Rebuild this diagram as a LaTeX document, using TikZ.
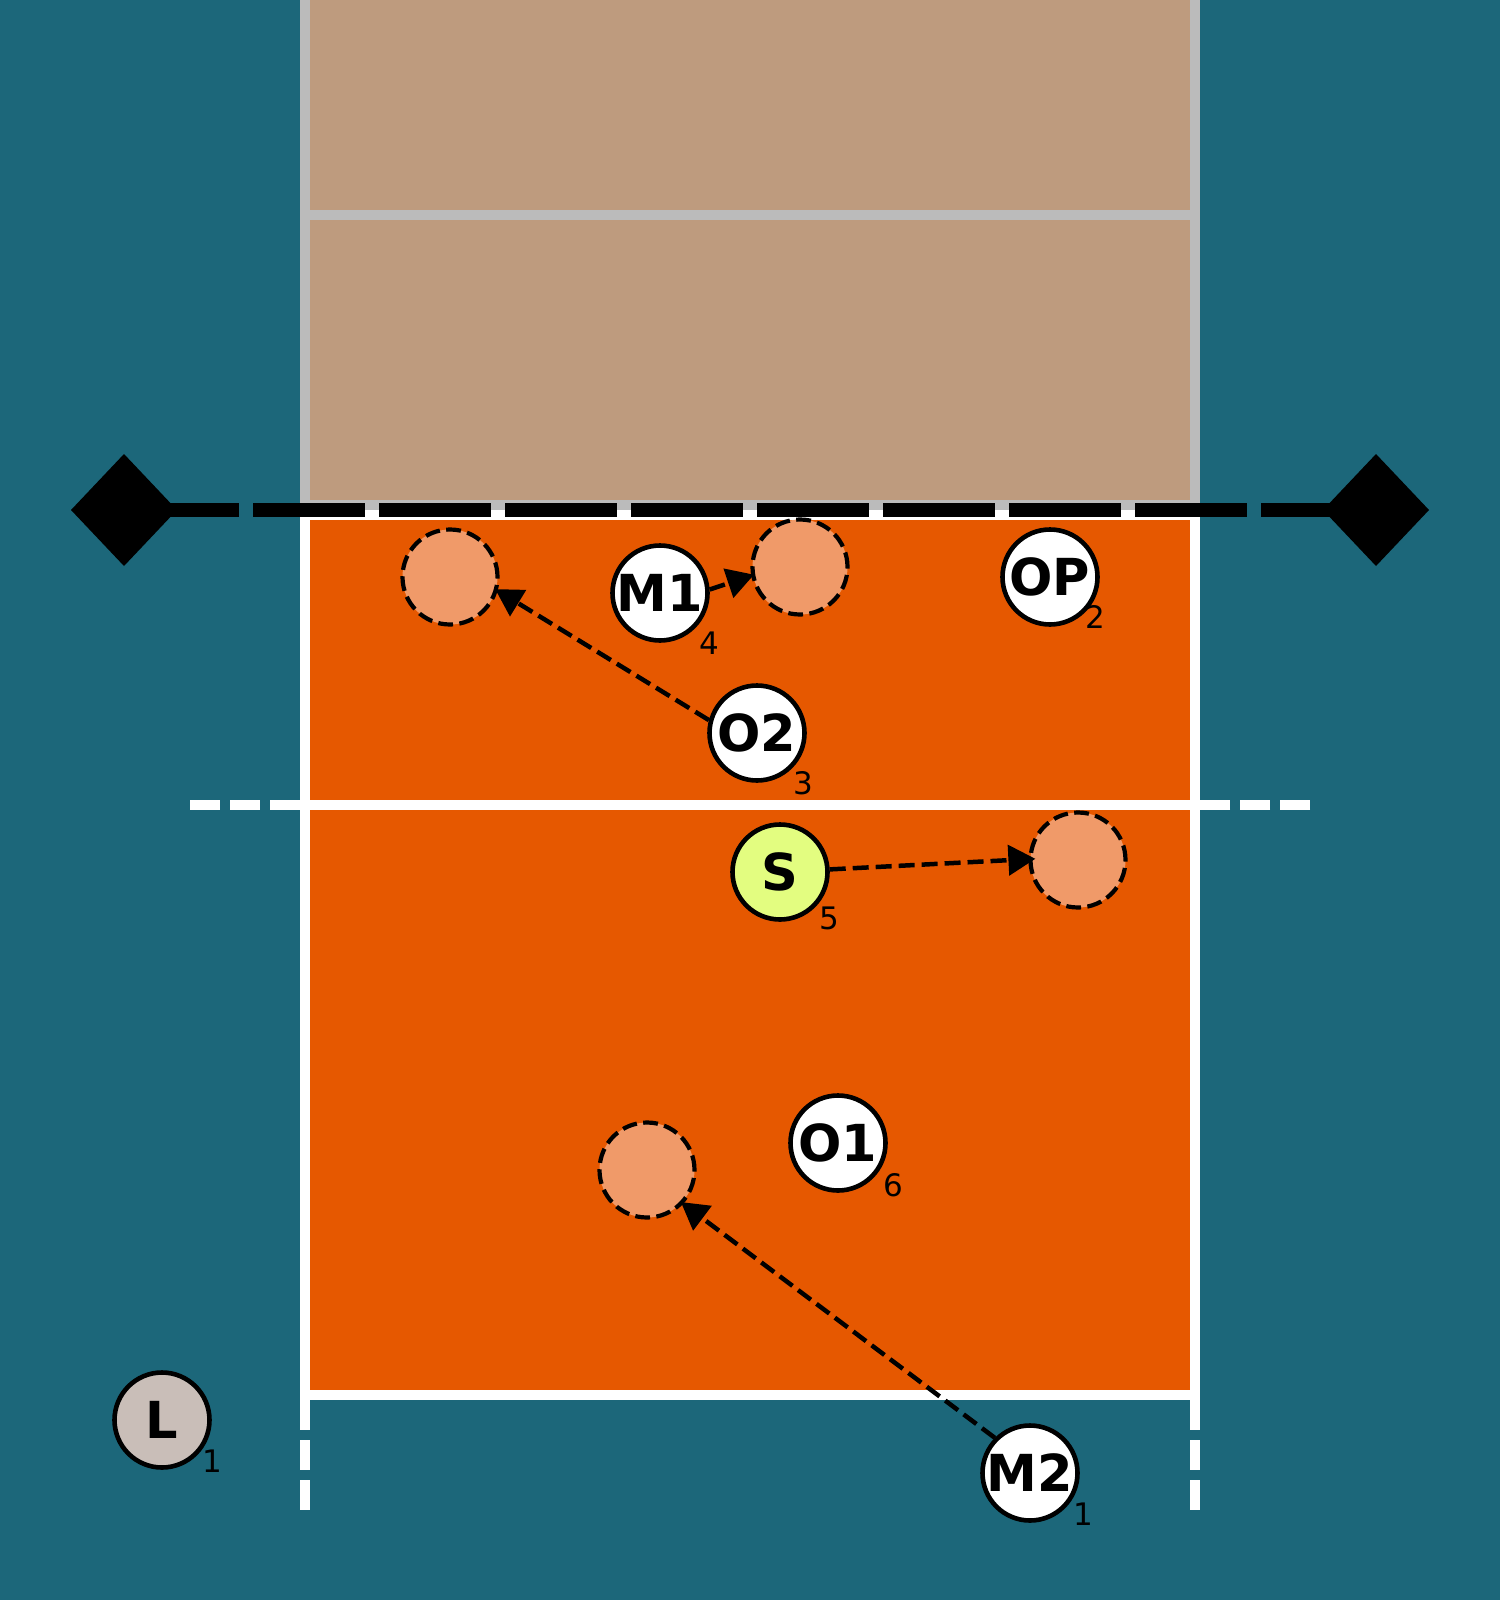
\documentclass[tikz,border=0pt]{standalone}
\usepackage{fontspec}
\setmainfont{DejaVu Sans}
\usetikzlibrary{arrows.meta}
\definecolor{bgteal}{RGB}{28,103,122}
\definecolor{courttan}{RGB}{190,155,126}
\definecolor{courtorange}{RGB}{230,88,0}
\definecolor{ghostfill}{RGB}{240,154,105}
\definecolor{netgray}{RGB}{187,187,187}
\definecolor{setterfill}{RGB}{227,253,128}
\definecolor{liberofill}{RGB}{201,190,184}
\begin{document}
\begin{tikzpicture}[x=1pt,y=-1pt,
  player/.style={circle, draw=black, line width=4.6pt, fill=white, minimum size=95pt, inner sep=0pt,
    font=\fontsize{51}{51}\selectfont\bfseries},
  ghost/.style={circle, draw=black, line width=4.2pt, fill=ghostfill, dash pattern=on 14.8pt off 6.4pt,
    minimum size=95pt, inner sep=0pt},
  numlabel/.style={font=\fontsize{31}{31}\selectfont, inner sep=0pt},
  move/.style={line width=4.5pt, dash pattern=on 16pt off 7pt, shorten >=-3pt,
    -{Triangle[length=27pt,width=30pt]}},
  courtline/.style={white, line width=10pt},
  grayline/.style={netgray, line width=10pt}]
\useasboundingbox (0,0) rectangle (1500,1600);
\clip (0,0) rectangle (1500,1600);
\fill[bgteal] (0,0) rectangle (1500,1600);
% opponent half
\filldraw[fill=courttan, draw=netgray, line width=10pt] (305,-100) rectangle (1195,505);
\draw[grayline] (305,215) -- (1195,215);
% own half
\filldraw[fill=courtorange, draw=white, line width=10pt] (305,515) rectangle (1195,1395);
\draw[courtline] (305,805) -- (1195,805);
\draw[courtline, dash pattern=on 30pt off 10pt] (190,805) -- (300,805);
\draw[courtline, dash pattern=on 30pt off 10pt] (1310,805) -- (1200,805);
\draw[courtline] (305,1395) -- (305,1430) (305,1440) -- (305,1470) (305,1480) -- (305,1510);
\draw[courtline] (1195,1395) -- (1195,1430) (1195,1440) -- (1195,1470) (1195,1480) -- (1195,1510);
% net
\draw[black, line width=14pt, dash pattern=on 112pt off 14pt] (127,510) -- (1373,510);
\fill[black] (124,454) -- (177,510) -- (124,566) -- (71,510) -- cycle;
\fill[black] (1376,454) -- (1429,510) -- (1376,566) -- (1323,510) -- cycle;
% target positions
\node[ghost] (g1) at (450,577) {};
\node[ghost] (g2) at (800,567) {};
\node[ghost] (g3) at (1078,860) {};
\node[ghost] (g4) at (647,1170) {};
% players
\node[player] (m1) at (660,593) {M1};
\node[player] (op) at (1050,577) {OP};
\node[player] (o2) at (757,733) {O2};
\node[player, fill=setterfill] (s) at (780,872) {S};
\node[player] (o1) at (838,1143) {O1};
\node[player] (m2) at (1030,1473) {M2};
\node[player, fill=liberofill] (l) at (162,1420) {L};
% numbers
\node[numlabel] (n4) at (709,643) {4};
\node[numlabel] (n2) at (1095,617) {2};
\node[numlabel] (n3) at (803,783) {3};
\node[numlabel] (n5) at (829,918) {5};
\node[numlabel] (n6) at (893,1185) {6};
\node[numlabel] (n1a) at (1083,1514) {1};
\node[numlabel] (n1b) at (212,1461) {1};
% movements
\draw[move] (m1.4) -- (g2.190);
\draw[move] (o2.165) -- (g1.-16);
\draw[move, shorten >=-7pt] (s.3) -- (g3.179);
\draw[move] (m2.135) -- (g4.-43);
\end{tikzpicture}
\end{document}
